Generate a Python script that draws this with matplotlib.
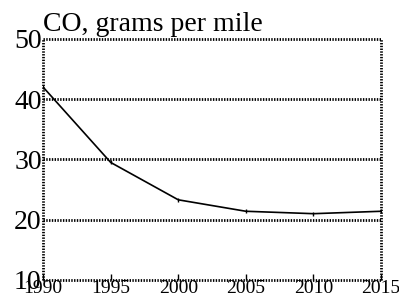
import matplotlib
matplotlib.use("Agg")
import matplotlib.pyplot as plt

# Datos (CO, gramos por milla)
years = [1990, 1995, 2000, 2005, 2010, 2015]
co_values = [42.0, 29.5, 23.3, 21.4, 21.0, 21.4]
y_ticks = [10, 20, 30, 40, 50]

plt.rcParams['font.family'] = ['Liberation Serif', 'DejaVu Serif']
plt.rcParams['lines.scale_dashes'] = False

fig = plt.figure(figsize=(3.99, 3.06), dpi=100)
ax = fig.add_axes([0.108, 0.085, 0.847, 0.788])

ax.plot(years, co_values, color="black", linewidth=1.2,
        marker="|", markersize=3, markeredgewidth=1)

ax.set_xlim(1990, 2015)
ax.set_ylim(10, 50)
ax.set_xticks(years)
ax.set_yticks(y_ticks)

# marco y líneas horizontales punteadas
dot = (0, (1, 1))
for y in y_ticks:
    ax.axhline(y, color="black", linestyle=dot, linewidth=2, clip_on=False)
ax.axvline(1990, color="black", linestyle=dot, linewidth=2, clip_on=False)
ax.axvline(2015, color="black", linestyle=dot, linewidth=2, clip_on=False)
for s in ax.spines.values():
    s.set_visible(False)

ax.tick_params(axis="x", direction="in", length=4, width=1, labelsize=14, pad=0)
ax.tick_params(axis="y", length=0, labelsize=20, pad=1)

fig.text(0.108, 0.899, "CO, grams per mile", fontsize=20, ha="left", va="baseline")

fig.savefig("out.png", dpi=100)
